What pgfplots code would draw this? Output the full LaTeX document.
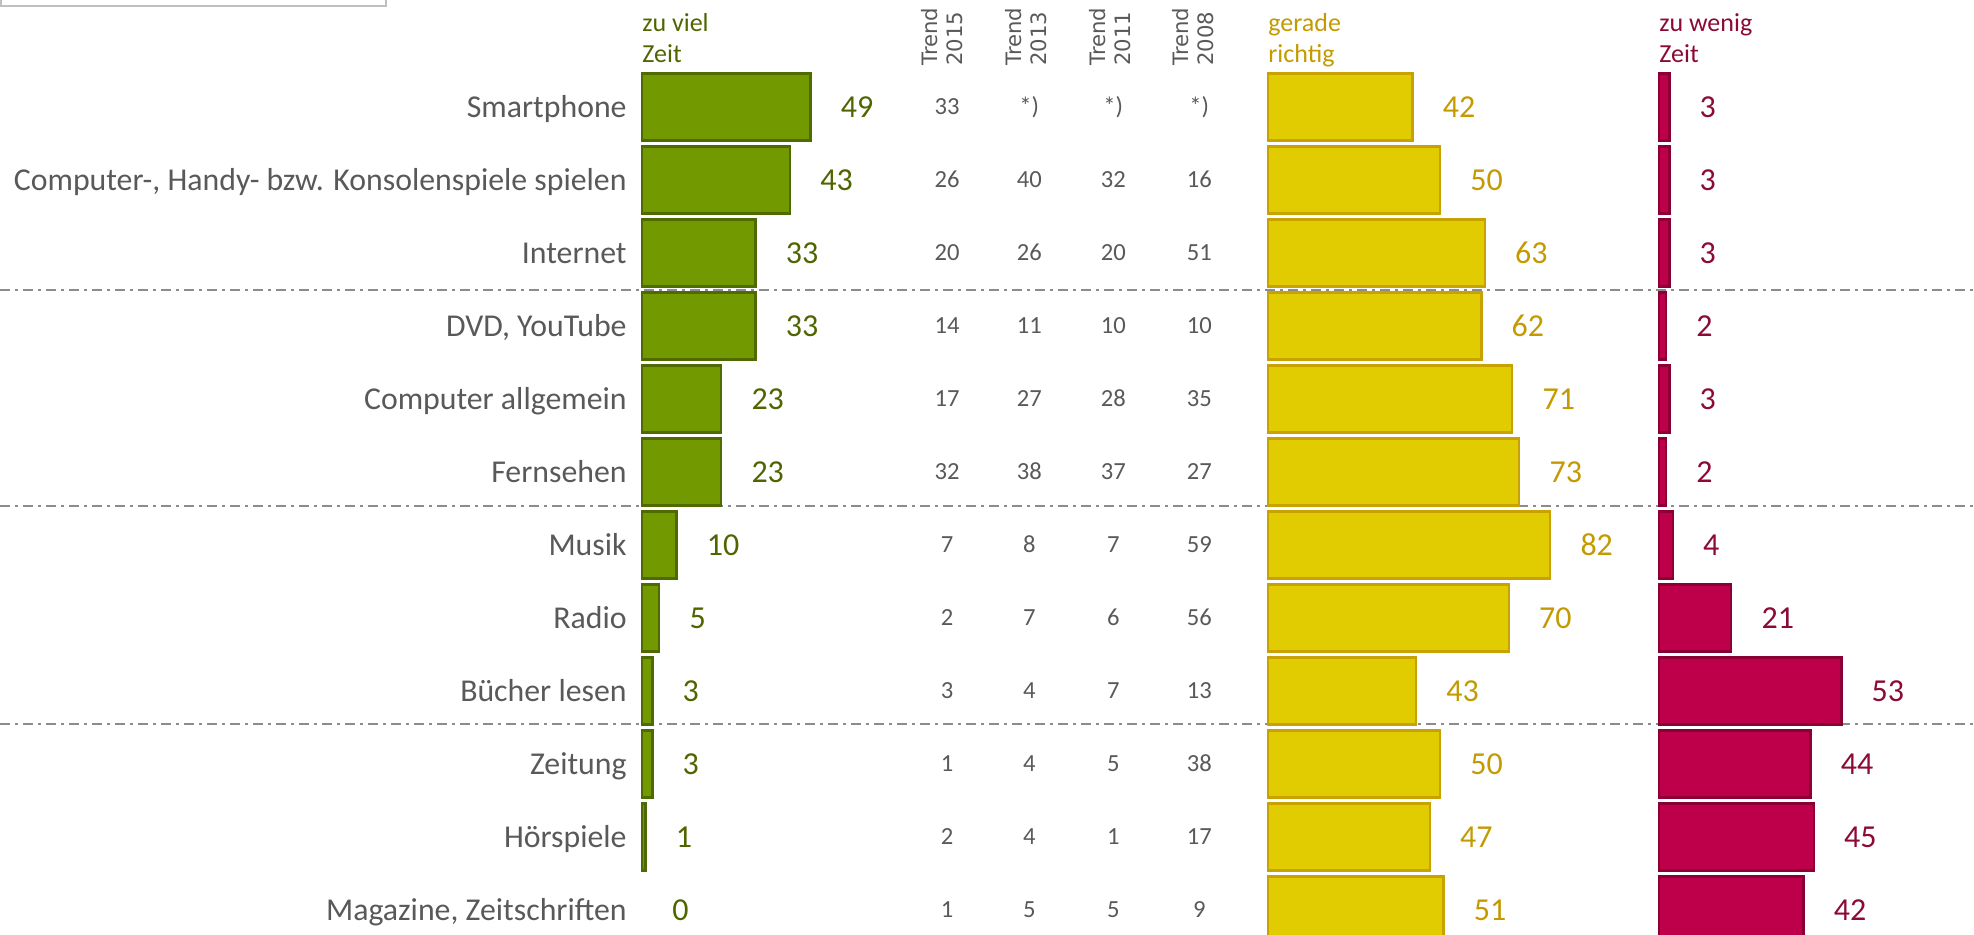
\documentclass[border=0pt]{standalone}
\usepackage{pgfplots}
\usepackage{pgfplotstable}
\pgfplotsset{compat=1.18}
\usepackage{fontspec}
\setmainfont{Carlito}
\newfontfamily\dejavu{DejaVu Sans}

\definecolor{grfill}{HTML}{739900}
\definecolor{grline}{HTML}{4F6A00}
\definecolor{grtext}{HTML}{4F6600}
\definecolor{yefill}{HTML}{E0CC00}
\definecolor{yeline}{HTML}{C8A200}
\definecolor{yetext}{HTML}{C49A00}
\definecolor{rdfill}{HTML}{BE004B}
\definecolor{rdline}{HTML}{8A0035}
\definecolor{rdtext}{HTML}{8B0A38}
\definecolor{txt}{HTML}{595959}
\definecolor{sep}{HTML}{8C8C8C}

% rows top to bottom
\pgfplotstableread[col sep=semicolon]{
row;name;viel;richtig;wenig;t2015;t2013;t2011;t2008
0;Smartphone;49;42;3;33;*);*);*)
1;Computer-, Handy- bzw. Konsolenspiele spielen;43;50;3;26;40;32;16
2;Internet;33;63;3;20;26;20;51
3;DVD, YouTube;33;62;2;14;11;10;10
4;Computer allgemein;23;71;3;17;27;28;35
5;Fernsehen;23;73;2;32;38;37;27
6;Musik;10;82;4;7;8;7;59
7;Radio;5;70;21;2;7;6;56
8;Bücher lesen;3;43;53;3;4;7;13
9;Zeitung;3;50;44;1;4;5;38
10;Hörspiele;1;47;45;2;4;1;17
11;Magazine, Zeitschriften;0;51;42;1;5;5;9
}\data

\pgfplotsset{
  panel/.style={
    hide axis, scale only axis, clip=false,
    anchor=north west,
    x=1.72pt, y=36.5pt, y dir=reverse,
    xmin=0, xmax=100, ymin=-0.5, ymax=11.5,
    /pgf/number format/assume math mode=true,
  },
  bars/.style 2 args={xbar, bar width=33.5pt, bar shift=0pt,
    fill=#1, draw=#2, line width=1.2pt,
    x filter/.expression={x==0 ? nan : x}},
  vals/.style={draw=none, mark=none, point meta=x, nodes near coords,
    nodes near coords style={anchor=west, inner sep=0pt, xshift=15pt,
      font=\fontsize{16}{16}\selectfont, text=#1,
      text height=10.2pt, text depth=0pt}},
  names/.style={draw=none, mark=none, point meta=explicit symbolic,
    nodes near coords,
    nodes near coords style={anchor=east, inner sep=0pt, xshift=-7.5pt,
      font=\fontsize{15.9}{16}\selectfont, text=txt,
      text height=10.2pt, text depth=0pt}},
  trend/.style={draw=none, mark=none, point meta=explicit symbolic,
    nodes near coords,
    nodes near coords style={anchor=center, inner sep=0pt,
      font=\fontsize{12.3}{12.3}\selectfont, text=txt,
      text height=7.8pt, text depth=0pt}},
}

\begin{document}
\begin{tikzpicture}
\begin{scope}[x=0.5pt,y=-0.5pt]
\coordinate (G) at (642,70.5);
\coordinate (Y) at (1268,70.5);
\coordinate (R) at (1659,70.5);

% separators
\foreach \yy in {290,506,724}
  \draw[sep, line width=0.75pt, dash pattern=on 5pt off 2.5pt on 1.5pt off 2.5pt]
    (0,\yy) -- (1974,\yy);

% box at top left
\draw[black!25, line width=1pt] (1,-20) rectangle (386,6);

% column headers
\begin{scope}[every node/.style={inner sep=0pt, anchor=base west,
    font=\fontsize{13}{13}\selectfont}]
\node[text=grtext] at (642,32) {zu viel};
\node[text=grtext] at (642,63) {Zeit};
\node[text=yetext] at (1268,32) {gerade};
\node[text=yetext] at (1268,63) {richtig};
\node[text=rdtext] at (1659,32) {zu wenig};
\node[text=rdtext] at (1659,63) {Zeit};
\end{scope}
\begin{scope}[every node/.style={inner sep=0pt, anchor=west, rotate=90,
    align=left, text=txt, font=\dejavu\fontsize{10.6}{12.5}\selectfont}]
\node at (942,66) {Trend\\2015};
\node at (1026,66) {Trend\\2013};
\node at (1110,66) {Trend\\2011};
\node at (1193,66) {Trend\\2008};
\end{scope}
\end{scope}

% zu viel Zeit
\begin{axis}[panel, at={(G)}]
\addplot[bars={grfill}{grline}] table[x=viel, y=row] \data;
\addplot[vals=grtext] table[x=viel, y=row] \data;
\addplot[names] table[x expr=0, y=row, meta=name] \data;
\addplot[trend] table[x expr=88.7, y=row, meta=t2015] \data;
\addplot[trend] table[x expr=112.6, y=row, meta=t2013] \data;
\addplot[trend] table[x expr=137, y=row, meta=t2011] \data;
\addplot[trend] table[x expr=162, y=row, meta=t2008] \data;
\end{axis}

% gerade richtig
\begin{axis}[panel, at={(Y)}]
\addplot[bars={yefill}{yeline}] table[x=richtig, y=row] \data;
\addplot[vals=yetext] table[x=richtig, y=row] \data;
\end{axis}

% zu wenig Zeit
\begin{axis}[panel, at={(R)}]
\addplot[bars={rdfill}{rdline}] table[x=wenig, y=row] \data;
\addplot[vals=rdtext] table[x=wenig, y=row] \data;
\end{axis}

\pgfresetboundingbox
\useasboundingbox (0,0) rectangle (987pt,-467.5pt);
\end{tikzpicture}
\end{document}
